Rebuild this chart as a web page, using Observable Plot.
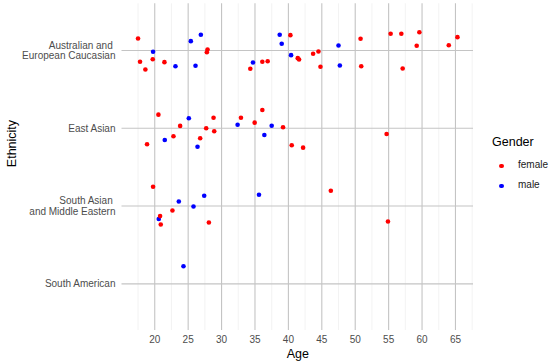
<!DOCTYPE html>
<html>
<head>
<meta charset="utf-8">
<script src="https://cdn.jsdelivr.net/npm/d3@7"></script>
<script src="https://cdn.jsdelivr.net/npm/@observablehq/plot@0.6"></script>
<style>
  html, body { margin: 0; padding: 0; background: #fff; }
  #wrap { position: relative; width: 550px; height: 364px; font-family: "Liberation Sans", Arial, sans-serif; }
  #legend { position: absolute; left: 480px; top: 128px; width: 70px; height: 70px; }
  #legend .title { position: absolute; left: 12px; top: 8px; font-size: 12.5px; line-height: 1; color: #000; white-space: nowrap; }
  #legend .item { position: absolute; left: 38px; font-size: 10px; line-height: 1; color: #1a1a1a; white-space: nowrap; }
  #legend .key { position: absolute; width: 4.6px; height: 4.6px; border-radius: 50%; left: 19.4px; }
</style>
</head>
<body>
<div id="wrap">
  <div id="chart"></div>
  <div id="legend"></div>
</div>
<script>
// Categories (top to bottom) and their axis labels
const categories = ["Australian and European Caucasian", "East Asian", "South Asian and Middle Eastern", "South American"];
const categoryLabels = ["Australian and\u00a0\nEuropean Caucasian", "East Asian", "South Asian\u00a0\nand Middle Eastern", "South American"];
const genders = ["female", "male"];
const genderColors = ["#ff0000", "#0000ff"];
const xTicks = [20, 25, 30, 35, 40, 45, 50, 55, 60, 65];
const xMinorTicks = [17.5, 22.5, 27.5, 32.5, 37.5, 42.5, 47.5, 52.5, 57.5, 62.5, 67.5];

// [age, gender, vertical jitter (category units, up positive)]
const australianEuropean = [
  [17.5, "female", 0.154], [19.75, "male", -0.017], [25.4, "male", 0.120], [26.9, "male", 0.202],
  [27.9, "female", 0.013], [27.8, "female", -0.022], [17.8, "female", -0.145], [18.6, "female", -0.244],
  [19.7, "female", -0.112], [21.45, "female", -0.150], [23.1, "male", -0.202], [26.1, "male", -0.197],
  [34.7, "male", -0.154], [34.3, "female", -0.235], [36.1, "female", -0.145], [36.9, "female", -0.138],
  [38.7, "male", 0.202], [39.0, "male", 0.086], [40.3, "female", 0.197], [40.4, "male", -0.060],
  [41.4, "female", -0.099], [41.6, "female", -0.116], [43.7, "female", -0.042], [44.5, "female", -0.013],
  [44.8, "female", -0.210], [47.5, "male", 0.064], [47.7, "male", -0.193], [50.8, "female", 0.150],
  [50.9, "female", -0.202], [55.3, "female", 0.215], [56.9, "female", 0.215], [57.1, "female", -0.231],
  [59.6, "female", 0.235], [59.2, "female", 0.060], [64.0, "female", 0.068], [65.3, "female", 0.171]
];
const eastAsian = [
  [18.85, "female", -0.206], [20.55, "female", 0.175], [21.5, "male", -0.150], [22.8, "female", -0.103],
  [23.8, "female", 0.030], [25.1, "male", 0.129], [26.4, "male", -0.237], [26.8, "female", -0.129],
  [27.7, "female", 0.0], [28.8, "female", 0.136], [28.9, "female", -0.039], [32.4, "male", 0.046],
  [32.9, "female", 0.136], [34.95, "female", 0.072], [36.1, "female", 0.235], [36.4, "male", -0.086],
  [37.5, "male", 0.033], [39.2, "female", 0.013], [40.5, "female", -0.219], [42.2, "female", -0.249],
  [54.7, "female", -0.073]
];
const southAsianMiddleEastern = [
  [19.75, "female", 0.248], [20.6, "male", -0.167], [20.8, "female", -0.129], [20.9, "female", -0.237],
  [22.65, "female", -0.057], [23.6, "male", 0.059], [25.8, "male", -0.005], [27.4, "male", 0.132],
  [28.1, "female", -0.211], [35.6, "male", 0.145], [46.35, "female", 0.197], [54.9, "female", -0.198]
];
const southAmerican = [
  [24.3, "male", 0.226]
];

const groups = [australianEuropean, eastAsian, southAsianMiddleEastern, southAmerican];
const levels = categories.map((c, i) => categories.length - i); // 4..1
const labelByLevel = new Map(levels.map((l, i) => [l, categoryLabels[i]]));

const data = groups.flatMap((g, i) => g.map(([age, gender, jitter]) => ({
  age, gender, ethnicity: categories[i], y: levels[i] + jitter
})));

const chart = Plot.plot({
  width: 550,
  height: 364,
  marginLeft: 121.5,
  marginRight: 77,
  marginTop: 3.3,
  marginBottom: 34,
  style: { fontFamily: "'Liberation Sans', Arial, sans-serif", background: "#fff", overflow: "visible" },
  x: { domain: [15.1, 67.7] },
  y: { domain: [0.4, 4.6] },
  color: { domain: genders, range: genderColors },
  marks: [
    Plot.ruleX(xMinorTicks, { stroke: "#ebebeb", strokeWidth: 0.6 }),
    Plot.ruleX(xTicks, { stroke: "#c4c4c4", strokeWidth: 1.1 }),
    Plot.ruleY(levels, { stroke: "#c4c4c4", strokeWidth: 1.1 }),
    Plot.axisX({ ticks: xTicks, tickSize: 0, tickPadding: 5, label: null, fontSize: 10, color: "#4d4d4d" }),
    Plot.axisY({ ticks: levels, tickFormat: d => labelByLevel.get(d), tickSize: 0, tickPadding: 6.5, label: null, fontSize: 10, color: "#4d4d4d", lineHeight: 1.1 }),
    Plot.dot(data, { x: "age", y: "y", fill: "gender", r: 2.3 }),
    Plot.text(["Age"], { frameAnchor: "bottom", lineAnchor: "middle", dy: 23, fontSize: 12.5, fill: "#000" }),
    Plot.text(["Ethnicity"], { frameAnchor: "left", dx: -110, rotate: -90, fontSize: 12.5, fill: "#000" })
  ]
});
document.getElementById("chart").appendChild(chart);

// Legend (right side)
const legend = document.getElementById("legend");
const title = document.createElement("div");
title.className = "title";
title.textContent = "Gender";
legend.appendChild(title);
genders.forEach((g, i) => {
  const cy = 38 + i * 20; // relative centre of key
  const key = document.createElement("div");
  key.className = "key";
  key.style.top = (cy - 2.3) + "px";
  key.style.background = genderColors[i];
  legend.appendChild(key);
  const lab = document.createElement("div");
  lab.className = "item";
  lab.style.top = (cy - 6) + "px";
  lab.textContent = g;
  legend.appendChild(lab);
});
</script>
</body>
</html>
